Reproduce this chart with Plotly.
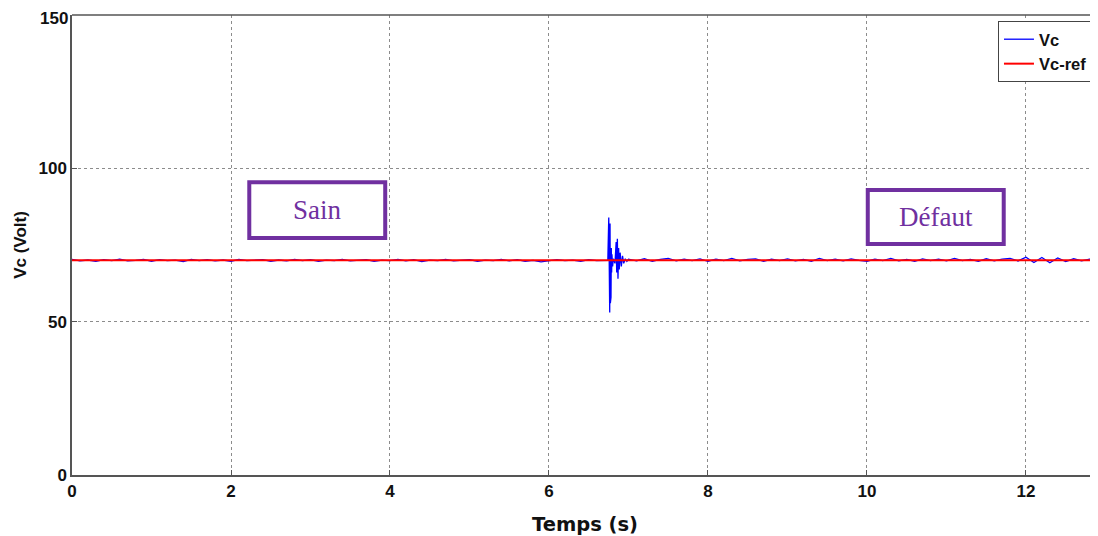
import plotly.graph_objects as go

# ---------------- data ----------------
t_pre = [0.0, 0.1, 0.2, 0.3, 0.4, 0.5, 0.6, 0.7, 0.8, 0.9,
         1.0, 1.1, 1.2, 1.3, 1.4, 1.5, 1.6, 1.7, 1.8, 1.9,
         2.0, 2.1, 2.2, 2.3, 2.4, 2.5, 2.6, 2.7, 2.8, 2.9,
         3.0, 3.1, 3.2, 3.3, 3.4, 3.5, 3.6, 3.7, 3.8, 3.9,
         4.0, 4.1, 4.2, 4.3, 4.4, 4.5, 4.6, 4.7, 4.8, 4.9,
         5.0, 5.1, 5.2, 5.3, 5.4, 5.5, 5.6, 5.7, 5.8, 5.9,
         6.0, 6.1, 6.2, 6.3, 6.4, 6.5, 6.6, 6.7, 6.74]
vc_pre = [70.3, 69.8, 70.1, 69.7, 70.2, 69.9, 70.4, 69.8, 70.0, 70.3,
          69.7, 70.2, 69.9, 70.1, 69.6, 70.3, 69.9, 70.2, 69.8, 70.1,
          69.7, 70.3, 69.9, 70.0, 70.2, 69.7, 70.1, 69.8, 70.3, 69.9,
          70.2, 69.7, 70.1, 69.9, 70.3, 69.8, 70.0, 70.2, 69.7, 70.1,
          69.9, 70.3, 69.8, 70.2, 69.6, 70.1, 69.9, 70.3, 69.8, 70.0,
          70.2, 69.7, 70.1, 69.9, 70.3, 69.8, 70.2, 69.7, 70.0, 69.5,
          69.8, 70.2, 69.9, 70.1, 69.7, 70.2, 69.9, 70.1, 70.0]

t_tr = [6.752, 6.756, 6.760, 6.764, 6.768, 6.772, 6.776, 6.780, 6.784, 6.788, 6.792,
        6.800, 6.810, 6.830, 6.845, 6.852, 6.860, 6.868, 6.876, 6.884, 6.895, 6.910,
        6.925, 6.940, 6.960, 6.980]
vc_tr = [84.0, 54.0, 83.0, 53.0, 82.0, 56.0, 80.0, 58.0, 74.0, 66.0, 72.0,
         68.0, 70.5, 69.0, 76.0, 66.0, 77.0, 64.0, 74.0, 67.0, 72.5, 68.0,
         71.5, 69.0, 70.5, 69.7]

t_post = [7.0, 7.1, 7.2, 7.3, 7.4, 7.5, 7.6, 7.7, 7.8, 7.9,
          8.0, 8.1, 8.2, 8.3, 8.4, 8.5, 8.6, 8.7, 8.8, 8.9,
          9.0, 9.1, 9.2, 9.3, 9.4, 9.5, 9.6, 9.7, 9.8, 9.9,
          10.0, 10.1, 10.2, 10.3, 10.4, 10.5, 10.6, 10.7, 10.8, 10.9,
          11.0, 11.1, 11.2, 11.3, 11.4, 11.5, 11.6, 11.7, 11.8, 11.9,
          12.0, 12.1, 12.2, 12.3, 12.4, 12.5, 12.6, 12.7, 12.8, 12.9]
vc_post = [70.4, 69.8, 70.5, 69.7, 70.3, 70.6, 69.8, 70.4, 69.9, 70.5,
           69.7, 70.4, 69.9, 70.6, 69.8, 70.3, 70.5, 69.7, 70.4, 69.9,
           70.5, 69.8, 70.3, 69.7, 70.6, 69.9, 70.4, 69.8, 70.5, 70.0,
           69.7, 70.4, 69.9, 70.6, 69.8, 70.3, 69.7, 70.5, 69.9, 70.4,
           69.8, 70.6, 69.9, 70.3, 69.7, 70.5, 69.8, 70.4, 70.6, 69.8,
           71.0, 69.3, 70.9, 69.2, 70.8, 69.6, 70.5, 69.8, 70.4, 69.9]

t_vc = t_pre + t_tr + t_post
vc = vc_pre + vc_tr + vc_post

t_ref = [0.0, 12.9]
vc_ref = [70.0, 70.0]

x_ticks = [0, 2, 4, 6, 8, 10, 12]
y_ticks = [0, 50, 100, 150]

# ---------------- figure ----------------
FONT = "Liberation Sans, Arial, sans-serif"
PURPLE = "#7030A0"

fig = go.Figure()
fig.add_trace(go.Scatter(x=t_vc, y=vc, mode="lines", name="Vc",
                         line=dict(color="#0000FF", width=1.3)))
fig.add_trace(go.Scatter(x=t_ref, y=vc_ref, mode="lines", name="Vc-ref",
                         line=dict(color="#FF0000", width=2)))

TICKFONT = dict(family=FONT, size=17, color="#111111", weight="bold")
axis_common = dict(
    showgrid=True, gridcolor="#8c8c8c", griddash="dot", gridwidth=1,
    showline=True, linecolor="#555555", linewidth=1.5,
    ticks="inside", ticklen=5, tickcolor="#555555",
    tickfont=TICKFONT,
    zeroline=False, automargin=False,
)

fig.update_xaxes(range=[0, 12.906], tickvals=x_ticks, ticktext=[str(v) for v in x_ticks],
                 title=dict(text="Temps (s)", standoff=17,
                            font=dict(family="DejaVu Sans, Verdana, sans-serif", size=19.5,
                                      color="#111111", weight="bold")),
                 **axis_common)
# top label (150) sits at the page edge, drawn as an annotation so it is not dropped
fig.update_yaxes(range=[0, 150], tickvals=y_ticks,
                 ticktext=[str(v) if v != y_ticks[-1] else "" for v in y_ticks],
                 title=dict(text="Vc (Volt)", standoff=8,
                            font=dict(family=FONT, size=17, color="#111111", weight="bold")),
                 **axis_common)
fig.add_annotation(x=0, xref="paper", y=y_ticks[-1], yref="y", text=str(y_ticks[-1]),
                   showarrow=False, xanchor="right", yanchor="top", xshift=-3, yshift=7,
                   borderpad=0, font=TICKFONT)

# top border line
fig.add_shape(type="line", xref="paper", yref="paper", x0=0, x1=1, y0=1, y1=1,
              line=dict(color="#555555", width=1.5))

# annotation boxes
fig.add_shape(type="rect", xref="x", yref="y", x0=2.23, x1=3.94, y0=77.3, y1=95.5,
              line=dict(color=PURPLE, width=4), fillcolor="white", layer="above")
fig.add_annotation(x=3.085, y=86.4, xref="x", yref="y", text="Sain", showarrow=False,
                   font=dict(family="Liberation Serif, Times New Roman, serif", size=27, color=PURPLE))
fig.add_shape(type="rect", xref="x", yref="y", x0=10.01, x1=11.72, y0=75.3, y1=92.9,
              line=dict(color=PURPLE, width=4), fillcolor="white", layer="above")
fig.add_annotation(x=10.865, y=84.1, xref="x", yref="y", text="Défaut", showarrow=False,
                   font=dict(family="Liberation Serif, Times New Roman, serif", size=27, color=PURPLE))

# the page body adds an 8px offset, so the figure is 8px smaller and margins shifted
fig.update_layout(
    width=1090, height=528,
    margin=dict(l=64, r=0, t=7, b=61),
    plot_bgcolor="white", paper_bgcolor="white",
    showlegend=True,
    legend=dict(x=0.9025, xanchor="left", y=0.987, yanchor="top",
                bgcolor="white", bordercolor="#444444", borderwidth=1,
                font=dict(family=FONT, size=16.5, color="#111111", weight="bold"),
                itemwidth=30, tracegroupgap=0),
)

fig.write_html("out.html")
